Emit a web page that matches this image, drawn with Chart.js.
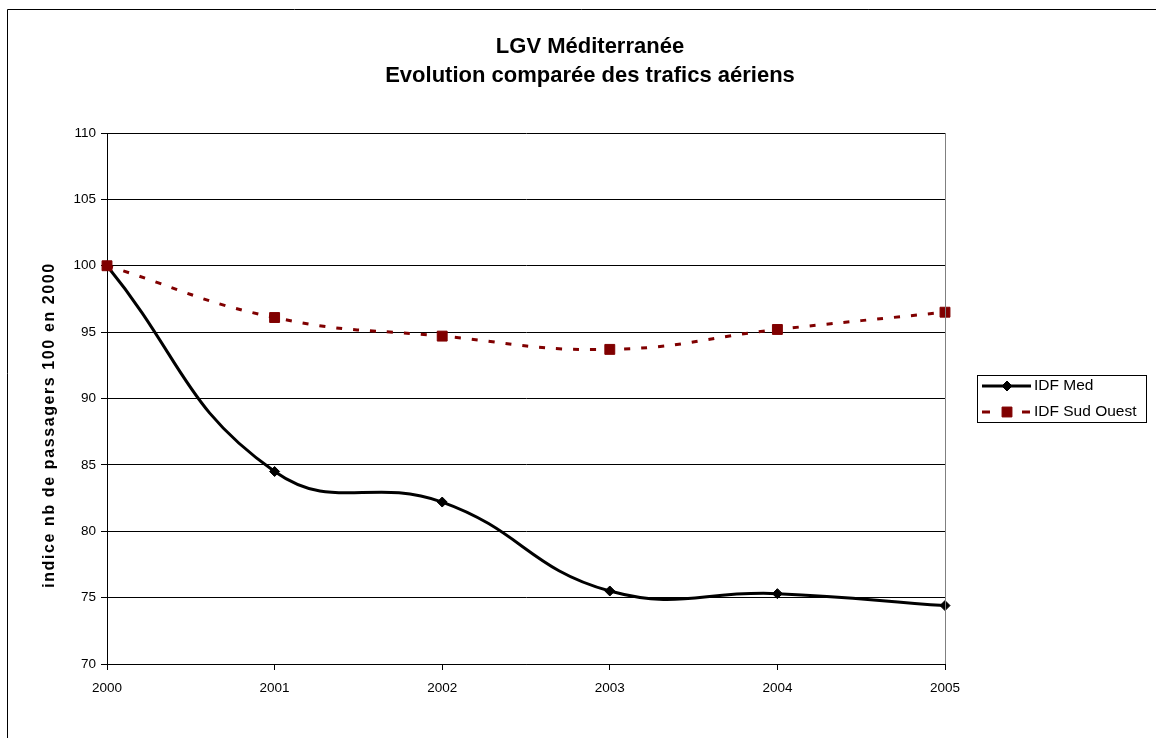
<!DOCTYPE html>
<html>
<head>
<meta charset="utf-8">
<title>LGV Méditerranée</title>
<script src="https://cdn.jsdelivr.net/npm/chart.js@4/dist/chart.umd.min.js"></script>
<style>
  html, body { margin: 0; padding: 0; background: #fff; }
  #wrap { width: 1156px; height: 738px; position: relative; }
</style>
</head>
<body>
<div id="wrap"><canvas id="c" width="1156" height="738"></canvas></div>
<script>
// Years on the horizontal axis
const years = ['2000', '2001', '2002', '2003', '2004', '2005'];
// Passenger index, base 100 in 2000
const idfMed = [100, 84.5, 82.2, 75.5, 75.3, 74.4];
const idfSudOuest = [100, 96.1, 94.7, 93.7, 95.2, 96.5];
// Series names
const seriesNames = ['IDF Med', 'IDF Sud Ouest'];
// Chart texts
const titleLines = ['LGV Méditerranée', 'Evolution comparée des trafics aériens'];
const yAxisTitle = 'indice nb de passagers 100 en 2000';

const FONT = '"Liberation Sans", Arial, Helvetica, sans-serif';
const DARK_RED = '#800000';

// Frame, title, y-axis title, plot border and legend box
const decorations = {
  id: 'decorations',
  beforeDraw(chart) {
    const ctx = chart.ctx;
    ctx.save();
    ctx.fillStyle = '#fff';
    ctx.fillRect(0, 0, chart.width, chart.height);
    ctx.strokeStyle = '#000';
    ctx.lineWidth = 1;
    ctx.beginPath();
    ctx.moveTo(7.5, chart.height);
    ctx.lineTo(7.5, 9.5);
    ctx.lineTo(chart.width, 9.5);
    ctx.stroke();
    ctx.restore();
  },
  afterDatasetsDraw(chart) {
    const ctx = chart.ctx;
    const area = chart.chartArea;
    ctx.save();
    // right edge of the plot area
    ctx.strokeStyle = '#808080';
    ctx.lineWidth = 1;
    ctx.beginPath();
    ctx.moveTo(Math.round(area.right) + 0.5, area.top);
    ctx.lineTo(Math.round(area.right) + 0.5, area.bottom);
    ctx.stroke();
    ctx.restore();
  },
  afterDraw(chart) {
    const ctx = chart.ctx;
    ctx.save();
    // title
    ctx.fillStyle = '#000';
    ctx.textAlign = 'center';
    ctx.textBaseline = 'middle';
    ctx.font = 'bold 22px ' + FONT;
    ctx.fillText(titleLines[0], 590, 47);
    ctx.fillText(titleLines[1], 590, 76);
    // y-axis title
    ctx.save();
    ctx.translate(50, 425);
    ctx.rotate(-Math.PI / 2);
    ctx.font = 'bold 16px ' + FONT;
    ctx.letterSpacing = '1.6px';
    ctx.fillText(yAxisTitle, 0, 0);
    ctx.restore();

    // legend
    const lx = 977.5, ly = 375.5, lw = 169, lh = 47;
    ctx.strokeStyle = '#000';
    ctx.lineWidth = 1;
    ctx.strokeRect(lx, ly, lw, lh);
    const rows = [386, 412];
    chart.data.datasets.forEach((ds, i) => {
      const y = rows[i];
      ctx.save();
      ctx.strokeStyle = ds.borderColor;
      ctx.lineWidth = ds.borderWidth;
      ctx.setLineDash(ds.borderDash ? [8, 32] : []);
      ctx.beginPath();
      ctx.moveTo(982, y);
      ctx.lineTo(1031, y);
      ctx.stroke();
      ctx.setLineDash([]);
      ctx.fillStyle = ds.pointBackgroundColor;
      ctx.strokeStyle = ds.pointBorderColor;
      ctx.lineWidth = 1;
      Chart.helpers.drawPoint(ctx, {
        pointStyle: ds.pointStyle,
        radius: ds.pointRadius,
        borderWidth: 1
      }, 1007, y);
      ctx.restore();
      ctx.fillStyle = '#000';
      ctx.textAlign = 'left';
      ctx.textBaseline = 'middle';
      ctx.font = '15.5px ' + FONT;
      ctx.fillText(ds.label, 1034, y);
    });
    ctx.restore();
  }
};

Chart.register(decorations);

new Chart(document.getElementById('c'), {
  type: 'line',
  data: {
    labels: years,
    datasets: [
      {
        label: seriesNames[0],
        data: idfMed,
        borderColor: '#000',
        backgroundColor: '#000',
        borderWidth: 3,
        tension: 0.45,
        pointStyle: 'rectRot',
        pointRadius: 5,
        pointBorderWidth: 1,
        pointBackgroundColor: '#000',
        pointBorderColor: '#000',
        clip: false,
        order: 1
      },
      {
        label: seriesNames[1],
        data: idfSudOuest,
        borderColor: DARK_RED,
        backgroundColor: DARK_RED,
        borderWidth: 3,
        borderDash: [6, 11],
        tension: 0.45,
        pointStyle: 'rect',
        pointRadius: 7,
        pointBorderWidth: 1,
        pointBackgroundColor: DARK_RED,
        pointBorderColor: DARK_RED,
        clip: false,
        order: 0
      }
    ]
  },
  options: {
    responsive: false,
    animation: false,
    devicePixelRatio: 1,
    layout: { padding: { top: 133, right: 211, bottom: 0, left: 0 } },
    plugins: {
      legend: { display: false },
      title: { display: false },
      tooltip: { enabled: false }
    },
    scales: {
      x: {
        type: 'category',
        offset: false,
        afterFit(scale) { scale.height = 74; },
        grid: {
          drawOnChartArea: false,
          drawTicks: true,
          tickLength: 6,
          color: '#000'
        },
        border: { display: true, color: '#000', width: 1 },
        ticks: {
          color: '#000',
          font: { family: FONT, size: 13.5 },
          padding: 10,
          maxRotation: 0,
          autoSkip: false
        }
      },
      y: {
        min: 70,
        max: 110,
        afterFit(scale) { scale.width = 107; },
        grid: {
          color: '#000',
          lineWidth: 1,
          drawTicks: true,
          tickLength: 6
        },
        border: { display: true, color: '#000', width: 1 },
        ticks: {
          stepSize: 5,
          color: '#000',
          font: { family: FONT, size: 13.5 },
          padding: 5
        }
      }
    }
  }
});
</script>
</body>
</html>
